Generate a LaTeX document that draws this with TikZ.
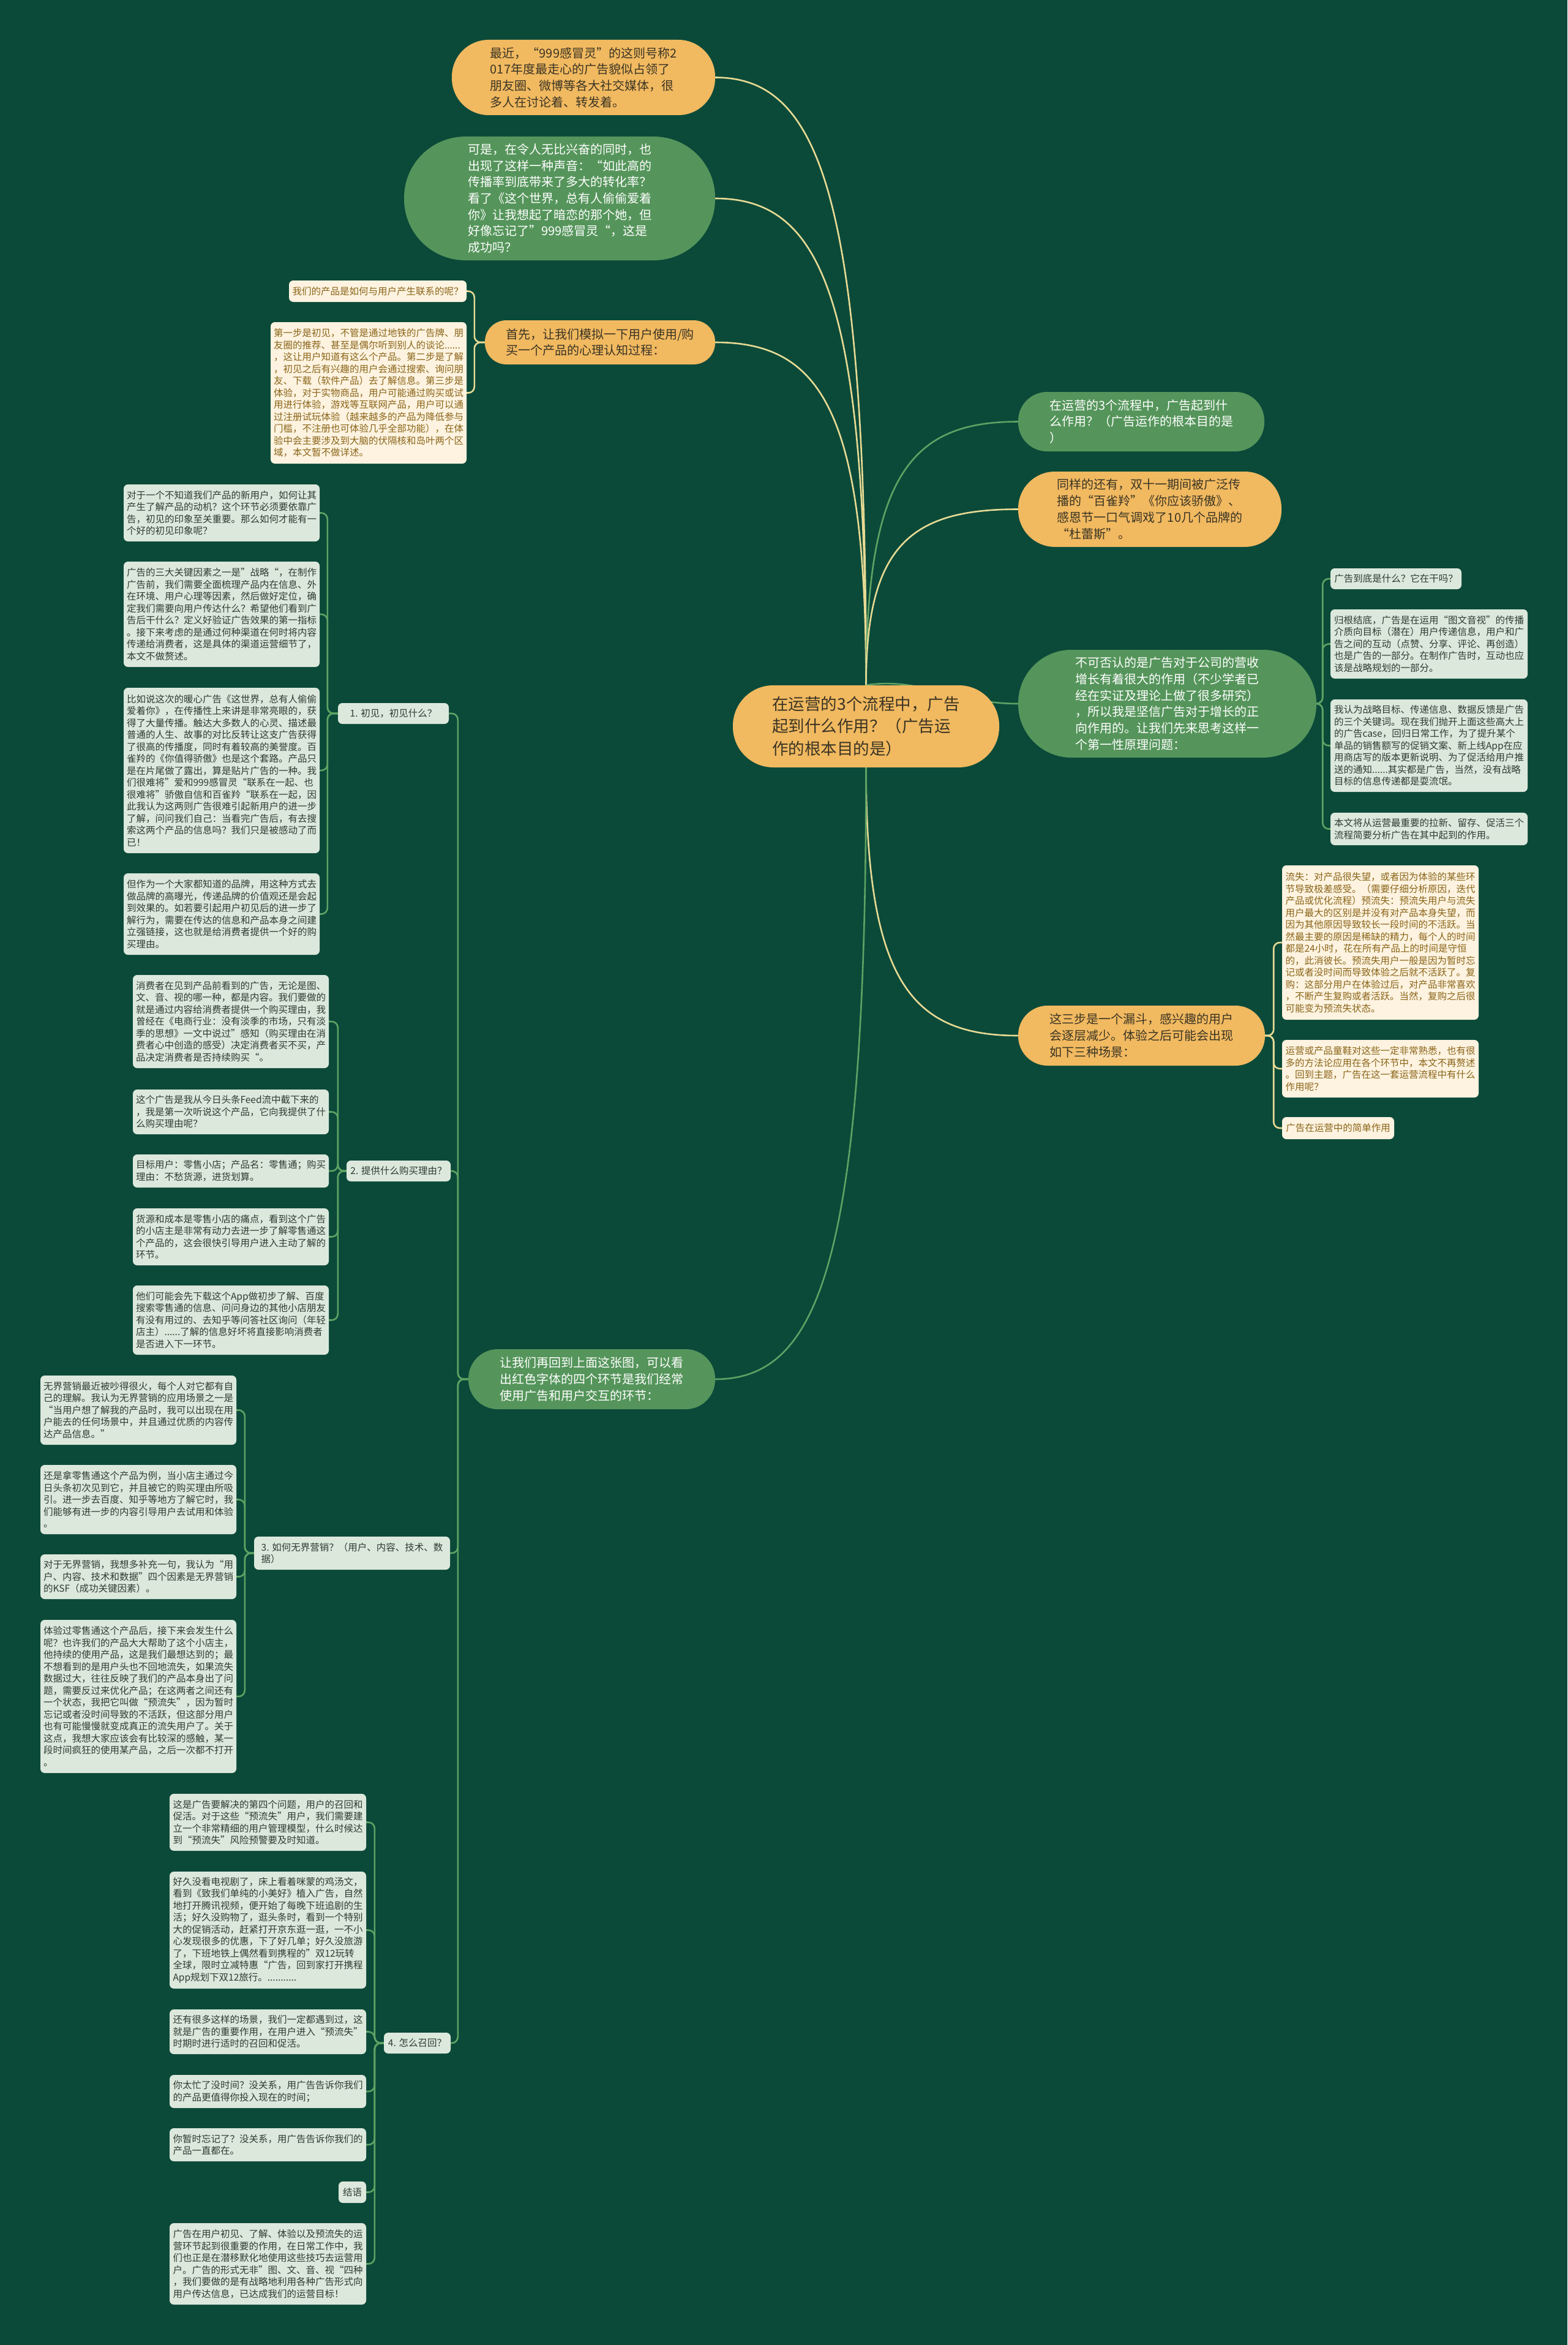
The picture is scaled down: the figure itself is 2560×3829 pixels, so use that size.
\documentclass[tikz,border=0pt]{standalone}
\usepackage{fontspec}
\setmainfont{Noto Sans CJK SC}
\usetikzlibrary{backgrounds}
\definecolor{cBg}{HTML}{0B4A39}
\definecolor{cOr}{HTML}{F1B960}
\definecolor{cOrT}{HTML}{3A3424}
\definecolor{cGr}{HTML}{55955B}
\definecolor{cLt}{HTML}{DDE8DD}
\definecolor{cLtT}{HTML}{2F3B30}
\definecolor{cCr}{HTML}{FDF3E0}
\definecolor{cCrT}{HTML}{8A6418}
\definecolor{cYl}{HTML}{E7DA94}
\definecolor{cGl}{HTML}{5FA264}
\newcommand\mmnode[7]{\node[#2,minimum width={(#5)-(#3)},minimum height={(#6)-(#4)}] (#1) at ({((#3)+(#5))/2},{((#4)+(#6))/2}) {#7};}
\tikzset{
  bigfont/.style={font=\fontsize{20}{26.7}\selectfont},
  smallfont/.style={font=\fontsize{15.5}{19.5}\selectfont},
  orn/.style={fill=cOr,text=cOrT,align=left,inner sep=0pt,bigfont},
  grn/.style={fill=cGr,text=white,align=left,inner sep=0pt,bigfont},
  lbox/.style={fill=cLt,text=cLtT,rounded corners=7pt,align=left,inner sep=0pt,smallfont},
  cbox/.style={fill=cCr,text=cCrT,rounded corners=7pt,align=left,inner sep=0pt,smallfont},
  yl/.style={draw=cYl,line width=2.6pt},
  gl/.style={draw=cGl,line width=2.6pt},
}
\begin{document}
\begin{tikzpicture}[x=1pt,y=-1pt]
\useasboundingbox (0,0) rectangle (2560,3829);
% ---------- main nodes ----------
\mmnode{C}{orn,rounded corners=66pt,font=\fontsize{26.5}{36.6}\selectfont}{1197}{1119}{1632}{1253}{在运营的3个流程中，广告\\起到什么作用？（广告运\\作的根本目的是）}
\mmnode{N1}{orn,rounded corners=60pt}{738}{65}{1168}{188}{最近，“999感冒灵”的这则号称2\\017年度最走心的广告貌似占领了\\朋友圈、微博等各大社交媒体，很\\多人在讨论着、转发着。}
\mmnode{N2}{grn,rounded corners=100pt}{660}{223}{1168}{425}{可是，在令人无比兴奋的同时，也\\出现了这样一种声音：“如此高的\\传播率到底带来了多大的转化率？\\看了《这个世界，总有人偷偷爱着\\你》让我想起了暗恋的那个她，但\\好像忘记了”999感冒灵“，这是\\成功吗？}
\mmnode{N5}{orn,rounded corners=35pt}{792}{523}{1168}{595}{首先，让我们模拟一下用户使用/购\\买一个产品的心理认知过程：}
\mmnode{N6}{grn,rounded corners=47pt}{1663}{640}{2065}{737}{在运营的3个流程中，广告起到什\\么作用？（广告运作的根本目的是\\）}
\mmnode{N7}{orn,rounded corners=60pt}{1663}{770}{2093}{893}{同样的还有，双十一期间被广泛传\\播的“百雀羚”《你应该骄傲》、\\感恩节一口气调戏了10几个品牌的\\“杜蕾斯”。}
\mmnode{N8}{grn,rounded corners=87pt}{1663}{1061}{2150}{1237}{不可否认的是广告对于公司的营收\\增长有着很大的作用（不少学者已\\经在实证及理论上做了很多研究）\\，所以我是坚信广告对于增长的正\\向作用的。让我们先来思考这样一\\个第一性原理问题：}
\mmnode{N11}{orn,rounded corners=48pt}{1663}{1642}{2066}{1740}{这三步是一个漏斗，感兴趣的用户\\会逐层减少。体验之后可能会出现\\如下三种场景：}
\mmnode{N17}{grn,rounded corners=48pt}{765}{2203}{1168}{2301}{让我们再回到上面这张图，可以看\\出红色字体的四个环节是我们经常\\使用广告和用户交互的环节：}
% ---------- children of N5 ----------
\mmnode{p1}{cbox}{472}{458}{762}{493}{我们的产品是如何与用户产生联系的呢？}
\mmnode{p2}{cbox}{442}{526}{762}{757}{第一步是初见，不管是通过地铁的广告牌、朋\\友圈的推荐、甚至是偶尔听到别人的谈论......\\，这让用户知道有这么个产品。第二步是了解\\，初见之后有兴趣的用户会通过搜索、询问朋\\友、下载（软件产品）去了解信息。第三步是\\体验，对于实物商品，用户可能通过购买或试\\用进行体验，游戏等互联网产品，用户可以通\\过注册试玩体验（越来越多的产品为降低参与\\门槛，不注册也可体验几乎全部功能），在体\\验中会主要涉及到大脑的伏隔核和岛叶两个区\\域，本文暂不做详述。}
% ---------- children of N8 ----------
\mmnode{r1}{lbox}{2173}{928}{2387}{962}{广告到底是什么？它在干吗？}
\mmnode{r2}{lbox}{2173}{995}{2495}{1108}{归根结底，广告是在运用“图文音视”的传播\\介质向目标（潜在）用户传递信息，用户和广\\告之间的互动（点赞、分享、评论、再创造）\\也是广告的一部分。在制作广告时，互动也应\\该是战略规划的一部分。}
\mmnode{r3}{lbox}{2173}{1142}{2495}{1293}{我认为战略目标、传递信息、数据反馈是广告\\的三个关键词。现在我们抛开上面这些高大上\\的广告case，回归日常工作，为了提升某个\\单品的销售额写的促销文案、新上线App在应\\用商店写的版本更新说明、为了促活给用户推\\送的通知......其实都是广告，当然，没有战略\\目标的信息传递都是耍流氓。}
\mmnode{r4}{lbox}{2173}{1327}{2495}{1380}{本文将从运营最重要的拉新、留存、促活三个\\流程简要分析广告在其中起到的作用。}
% ---------- children of N11 ----------
\mmnode{s1}{cbox}{2094}{1413}{2415}{1665}{流失：对产品很失望，或者因为体验的某些环\\节导致极差感受。（需要仔细分析原因，迭代\\产品或优化流程）预流失：预流失用户与流失\\用户最大的区别是并没有对产品本身失望，而\\因为其他原因导致较长一段时间的不活跃。当\\然最主要的原因是稀缺的精力，每个人的时间\\都是24小时，花在所有产品上的时间是守恒\\的，此消彼长。预流失用户一般是因为暂时忘\\记或者没时间而导致体验之后就不活跃了。复\\购：这部分用户在体验过后，对产品非常喜欢\\，不断产生复购或者活跃。当然，复购之后很\\可能变为预流失状态。}
\mmnode{s2}{cbox}{2094}{1698}{2415}{1792}{运营或产品童鞋对这些一定非常熟悉，也有很\\多的方法论应用在各个环节中，本文不再赘述\\。回到主题，广告在这一套运营流程中有什么\\作用呢？}
\mmnode{s3}{cbox}{2094}{1824}{2277}{1860}{广告在运营中的简单作用}
% ---------- labels under N17 ----------
\mmnode{L1}{lbox}{552}{1148}{733}{1182}{1. 初见，初见什么？}
\mmnode{L2}{lbox}{566}{1895}{736}{1929}{2. 提供什么购买理由？}
\mmnode{L3}{lbox}{415}{2509}{735}{2563}{3. 如何无界营销？（用户、内容、技术、数\\据）}
\mmnode{L4}{lbox}{627}{3319}{736}{3353}{4. 怎么召回？}
% ---------- 1 ----------
\mmnode{a1}{lbox}{202}{791}{522}{884}{对于一个不知道我们产品的新用户，如何让其\\产生了解产品的动机？这个环节必须要依靠广\\告，初见的印象至关重要。那么如何才能有一\\个好的初见印象呢？}
\mmnode{a2}{lbox}{202}{917}{522}{1089}{广告的三大关键因素之一是”战略“，在制作\\广告前，我们需要全面梳理产品内在信息、外\\在环境、用户心理等因素，然后做好定位，确\\定我们需要向用户传达什么？希望他们看到广\\告后干什么？定义好验证广告效果的第一指标\\。接下来考虑的是通过何种渠道在何时将内容\\传递给消费者，这是具体的渠道运营细节了，\\本文不做赘述。}
\mmnode{a3}{lbox}{202}{1123}{522}{1393}{比如说这次的暖心广告《这世界，总有人偷偷\\爱着你》，在传播性上来讲是非常亮眼的，获\\得了大量传播。触达大多数人的心灵、描述最\\普通的人生、故事的对比反转让这支广告获得\\了很高的传播度，同时有着较高的美誉度。百\\雀羚的《你值得骄傲》也是这个套路。产品只\\是在片尾做了露出，算是贴片广告的一种。我\\们很难将”爱和999感冒灵“联系在一起、也\\很难将”骄傲自信和百雀羚“联系在一起，因\\此我认为这两则广告很难引起新用户的进一步\\了解，问问我们自己：当看完广告后，有去搜\\索这两个产品的信息吗？我们只是被感动了而\\已！}
\mmnode{a4}{lbox}{202}{1426}{522}{1559}{但作为一个大家都知道的品牌，用这种方式去\\做品牌的高曝光，传递品牌的价值观还是会起\\到效果的。如若要引起用户初见后的进一步了\\解行为，需要在传达的信息和产品本身之间建\\立强链接，这也就是给消费者提供一个好的购\\买理由。}
% ---------- 2 ----------
\mmnode{b1}{lbox}{217}{1592}{537}{1744}{消费者在见到产品前看到的广告，无论是图、\\文、音、视的哪一种，都是内容。我们要做的\\就是通过内容给消费者提供一个购买理由，我\\曾经在《电商行业：没有淡季的市场，只有淡\\季的思想》一文中说过”感知（购买理由在消\\费者心中创造的感受）决定消费者买不买，产\\品决定消费者是否持续购买“。}
\mmnode{b2}{lbox}{217}{1779}{537}{1852}{这个广告是我从今日头条Feed流中截下来的\\，我是第一次听说这个产品，它向我提供了什\\么购买理由呢？}
\mmnode{b3}{lbox}{217}{1885}{537}{1939}{目标用户：零售小店；产品名：零售通；购买\\理由：不愁货源，进货划算。}
\mmnode{b4}{lbox}{217}{1973}{537}{2066}{货源和成本是零售小店的痛点，看到这个广告\\的小店主是非常有动力去进一步了解零售通这\\个产品的，这会很快引导用户进入主动了解的\\环节。}
\mmnode{b5}{lbox}{217}{2099}{537}{2212}{他们可能会先下载这个App做初步了解、百度\\搜索零售通的信息、问问身边的其他小店朋友\\有没有用过的、去知乎等问答社区询问（年轻\\店主）......了解的信息好坏将直接影响消费者\\是否进入下一环节。}
% ---------- 3 ----------
\mmnode{c1}{lbox}{66}{2246}{386}{2359}{无界营销最近被吵得很火，每个人对它都有自\\己的理解。我认为无界营销的应用场景之一是\\“当用户想了解我的产品时，我可以出现在用\\户能去的任何场景中，并且通过优质的内容传\\达产品信息。”}
\mmnode{c2}{lbox}{66}{2392}{386}{2505}{还是拿零售通这个产品为例，当小店主通过今\\日头条初次见到它，并且被它的购买理由所吸\\引。进一步去百度、知乎等地方了解它时，我\\们能够有进一步的内容引导用户去试用和体验\\。}
\mmnode{c3}{lbox}{66}{2538}{386}{2611}{对于无界营销，我想多补充一句，我认为“用\\户、内容、技术和数据”四个因素是无界营销\\的KSF（成功关键因素）。}
\mmnode{c4}{lbox}{66}{2645}{386}{2895}{体验过零售通这个产品后，接下来会发生什么\\呢？也许我们的产品大大帮助了这个小店主，\\他持续的使用产品，这是我们最想达到的；最\\不想看到的是用户头也不回地流失，如果流失\\数据过大，往往反映了我们的产品本身出了问\\题，需要反过来优化产品；在这两者之间还有\\一个状态，我把它叫做“预流失”，因为暂时\\忘记或者没时间导致的不活跃，但这部分用户\\也有可能慢慢就变成真正的流失用户了。关于\\这点，我想大家应该会有比较深的感触，某一\\段时间疯狂的使用某产品，之后一次都不打开\\。}
% ---------- 4 ----------
\mmnode{d1}{lbox}{277}{2929}{598}{3022}{这是广告要解决的第四个问题，用户的召回和\\促活。对于这些“预流失”用户，我们需要建\\立一个非常精细的用户管理模型，什么时候达\\到“预流失”风险预警要及时知道。}
\mmnode{d2}{lbox}{277}{3056}{598}{3247}{好久没看电视剧了，床上看着咪蒙的鸡汤文，\\看到《致我们单纯的小美好》植入广告，自然\\地打开腾讯视频，便开始了每晚下班追剧的生\\活；好久没购物了，逛头条时，看到一个特别\\大的促销活动，赶紧打开京东逛一逛，一不小\\心发现很多的优惠，下了好几单；好久没旅游\\了，下班地铁上偶然看到携程的”双12玩转\\全球，限时立减特惠“广告，回到家打开携程\\App规划下双12旅行。...........}
\mmnode{d3}{lbox}{277}{3281}{598}{3354}{还有很多这样的场景，我们一定都遇到过，这\\就是广告的重要作用，在用户进入“预流失”\\时期时进行适时的召回和促活。}
\mmnode{d4}{lbox}{277}{3388}{598}{3442}{你太忙了没时间？没关系，用广告告诉你我们\\的产品更值得你投入现在的时间；}
\mmnode{d5}{lbox}{277}{3475}{598}{3529}{你暂时忘记了？没关系，用广告告诉你我们的\\产品一直都在。}
\mmnode{d6}{lbox}{553}{3562}{598}{3597}{结语}
\mmnode{d7}{lbox}{277}{3630}{598}{3763}{广告在用户初见、了解、体验以及预流失的运\\营环节起到很重要的作用，在日常工作中，我\\们也正是在潜移默化地使用这些技巧去运营用\\户。广告的形式无非”图、文、音、视“四种\\，我们要做的是有战略地利用各种广告形式向\\用户传达信息，已达成我们的运营目标！}
% ---------- connectors ----------
\begin{pgfonlayer}{background}
\fill[cBg] (0,0) rectangle (2560,3829);
\draw[yl] (C.north) .. controls (1414.5,325) and (1340.5,126.5) .. (N1.east);
\draw[yl] (C.north) .. controls (1414.5,483) and (1340.5,324) .. (N2.east);
\draw[yl] (C.north) .. controls (1414.5,671) and (1340.5,559) .. (N5.east);
\draw[gl] (C.north) .. controls (1414.5,774) and (1489,688.5) .. (N6.east -| N6.west);
\draw[yl] (C.north) .. controls (1414.5,889) and (1489,831.5) .. (N7.west);
\draw[gl] (C.north) .. controls (1500,1105) and (1560,1149) .. (N8.west);
\draw[yl] (C.south) .. controls (1414.5,1603) and (1489,1691) .. (N11.west);
\draw[gl] (C.south) .. controls (1414.5,2052) and (1340.5,2252) .. (N17.east);
\foreach \c in {p1,p2} \draw[yl,rounded corners=10pt] (N5.west) -- ++(-17,0) |- (\c.east);
\foreach \c in {r1,r2,r3,r4} \draw[gl,rounded corners=10pt] (N8.east) -- ++(10,0) |- (\c.west);
\foreach \c in {s1,s2,s3} \draw[yl,rounded corners=10pt] (N11.east) -- ++(14,0) |- (\c.west);
\foreach \c in {L1,L2,L3,L4} \draw[gl,rounded corners=10pt] (N17.west) -- ++(-17,0) |- (\c.east);
\foreach \c in {a1,a2,a3,a4} \draw[gl,rounded corners=10pt] (L1.west) -- ++(-17,0) |- (\c.east);
\foreach \c in {b1,b2,b3,b4,b5} \draw[gl,rounded corners=10pt] (L2.west) -- ++(-14,0) |- (\c.east);
\foreach \c in {c1,c2,c3,c4} \draw[gl,rounded corners=10pt] (L3.west) -- ++(-15,0) |- (\c.east);
\foreach \c in {d1,d2,d3,d4,d5,d6,d7} \draw[gl,rounded corners=10pt] (L4.west) -- ++(-15,0) |- (\c.east);
\end{pgfonlayer}
\end{tikzpicture}
\end{document}
